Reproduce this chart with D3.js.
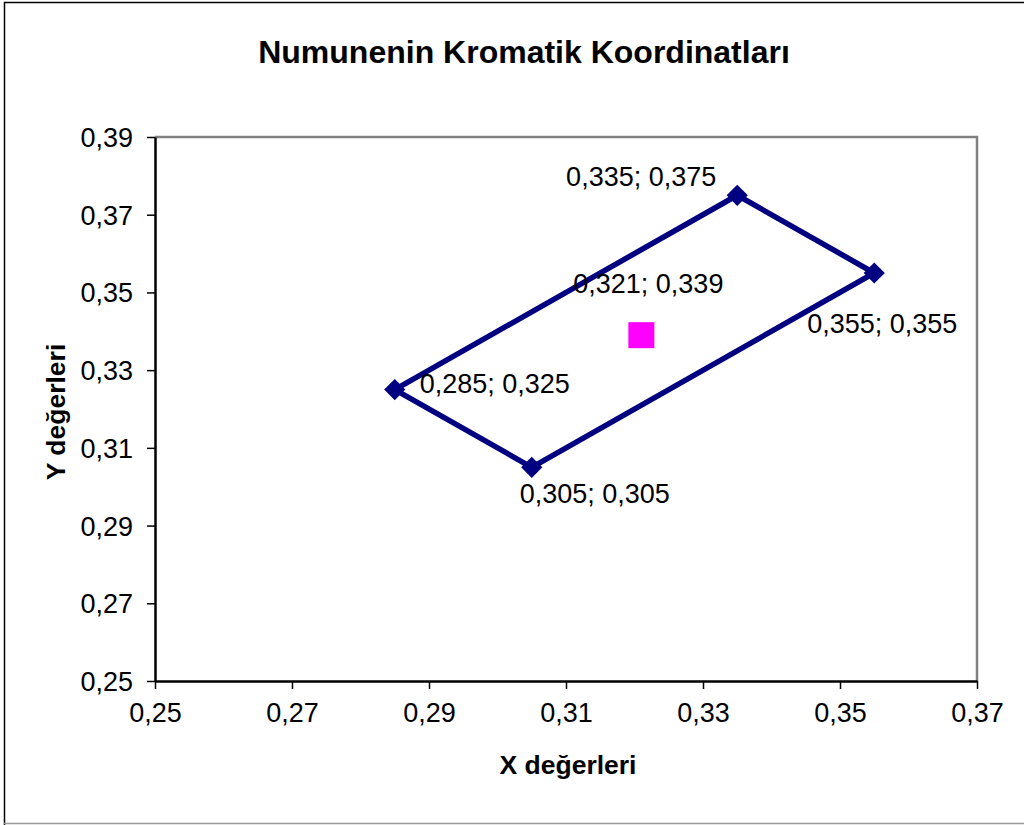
<!DOCTYPE html>
<html>
<head>
<meta charset="utf-8">
<script src="https://cdn.jsdelivr.net/npm/d3@7"></script>
<style>
  body { margin: 0; background: #fff; }
  text { font-family: "Liberation Sans", Arial, sans-serif; fill: #000; }
</style>
</head>
<body>
<svg id="chart" width="1024" height="825"></svg>
<script>
const title = 'Numunenin Kromatik Koordinatları';
const xTitle = 'X değerleri';
const yTitle = 'Y değerleri';

// sample boundary (closed polygon) and sample point
const boundaryX = [0.285, 0.305, 0.355, 0.335, 0.285];
const boundaryY = [0.325, 0.305, 0.355, 0.375, 0.325];
const sampleX = [0.321];
const sampleY = [0.339];

const xTicks = [0.25, 0.27, 0.29, 0.31, 0.33, 0.35, 0.37];
const yTicks = [0.25, 0.27, 0.29, 0.31, 0.33, 0.35, 0.37, 0.39];

const fmt = v => d3.format('.2f')(v).replace('.', ',');
const fmt3 = v => d3.format('.3f')(v).replace('.', ',');

// label offsets from the marker (layout only)
const boundaryLabelPos = [
  { dx: 25, dy: 3, anchor: 'start' },
  { dx: 63, dy: 36, anchor: 'middle' },
  { dx: 8, dy: 60, anchor: 'middle' },
  { dx: -21, dy: -9, anchor: 'end' },
];
const sampleLabelPos = { dx: 7, dy: -42, anchor: 'middle' };

const svg = d3.select('#chart');
const m = { left: 155, right: 977, top: 137, bottom: 681 };

const x = d3.scaleLinear().domain([0.25, 0.37]).range([m.left, m.right]);
const y = d3.scaleLinear().domain([0.25, 0.39]).range([m.bottom, m.top]);

// outer frame
svg.append('path')
  .attr('d', 'M4.5,825 V2.5 H1030')
  .attr('fill', 'none').attr('stroke', '#000').attr('stroke-width', 1.5);
svg.append('line')
  .attr('x1', 4).attr('x2', 1024).attr('y1', 823.5).attr('y2', 823.5)
  .attr('stroke', '#999').attr('stroke-width', 1.5);

// plot area top/right border
svg.append('path')
  .attr('d', `M${m.left},${m.top} H${m.right} V${m.bottom}`)
  .attr('fill', 'none').attr('stroke', '#808080').attr('stroke-width', 2.5);

// axes
const xAxis = svg.append('g')
  .attr('transform', `translate(0,${m.bottom})`)
  .call(d3.axisBottom(x).tickValues(xTicks).tickFormat(fmt).tickSizeInner(8).tickSizeOuter(0).tickPadding(14));
const yAxis = svg.append('g')
  .attr('transform', `translate(${m.left},0)`)
  .call(d3.axisLeft(y).tickValues(yTicks).tickFormat(fmt).tickSizeInner(8).tickSizeOuter(0).tickPadding(14));

[xAxis, yAxis].forEach(g => {
  g.select('.domain').attr('stroke', '#000').attr('stroke-width', 2.5);
  g.selectAll('.tick line').attr('stroke', '#000').attr('stroke-width', 1.5);
  g.selectAll('.tick text')
    .attr('font-family', '"Liberation Sans", Arial, sans-serif')
    .attr('font-size', 27).attr('fill', '#000');
});
xAxis.selectAll('.tick text').attr('dy', '0.71em').attr('y', 22);
yAxis.selectAll('.tick text').attr('x', -22).attr('dy', '0.35em');

// boundary polygon
const pts = boundaryX.map((v, i) => [v, boundaryY[i]]);
svg.append('path')
  .datum(pts)
  .attr('d', d3.line().x(d => x(d[0])).y(d => y(d[1])))
  .attr('fill', 'none')
  .attr('stroke', '#000080')
  .attr('stroke-width', 5.5)
  .attr('stroke-linejoin', 'miter');

const corners = pts.slice(0, 4);
svg.selectAll('.diamond')
  .data(corners)
  .join('rect')
  .attr('class', 'diamond')
  .attr('x', -7.5).attr('y', -7.5).attr('width', 15).attr('height', 15)
  .attr('fill', '#000080')
  .attr('transform', d => `translate(${x(d[0])},${y(d[1])}) rotate(45)`);

svg.selectAll('.blabel')
  .data(corners)
  .join('text')
  .attr('class', 'blabel')
  .attr('x', (d, i) => x(d[0]) + boundaryLabelPos[i].dx)
  .attr('y', (d, i) => y(d[1]) + boundaryLabelPos[i].dy)
  .attr('text-anchor', (d, i) => boundaryLabelPos[i].anchor)
  .attr('font-size', 27)
  .text(d => `${fmt3(d[0])}; ${fmt3(d[1])}`);

// sample point
const sample = sampleX.map((v, i) => [v, sampleY[i]]);
svg.selectAll('.sample')
  .data(sample)
  .join('rect')
  .attr('class', 'sample')
  .attr('x', d => x(d[0]) - 13).attr('y', d => y(d[1]) - 13)
  .attr('width', 26).attr('height', 26)
  .attr('fill', '#ff00ff');
svg.selectAll('.slabel')
  .data(sample)
  .join('text')
  .attr('class', 'slabel')
  .attr('x', d => x(d[0]) + sampleLabelPos.dx)
  .attr('y', d => y(d[1]) + sampleLabelPos.dy)
  .attr('text-anchor', sampleLabelPos.anchor)
  .attr('font-size', 27)
  .text(d => `${fmt3(d[0])}; ${fmt3(d[1])}`);

// titles
svg.append('text')
  .attr('x', 524).attr('y', 63)
  .attr('text-anchor', 'middle')
  .attr('font-size', 32).attr('font-weight', 'bold')
  .text(title);
svg.append('text')
  .attr('x', 568).attr('y', 774)
  .attr('text-anchor', 'middle')
  .attr('font-size', 26.5).attr('font-weight', 'bold')
  .text(xTitle);
svg.append('text')
  .attr('transform', 'translate(65,412) rotate(-90)')
  .attr('text-anchor', 'middle')
  .attr('font-size', 26.5).attr('font-weight', 'bold')
  .text(yTitle);
</script>
</body>
</html>
